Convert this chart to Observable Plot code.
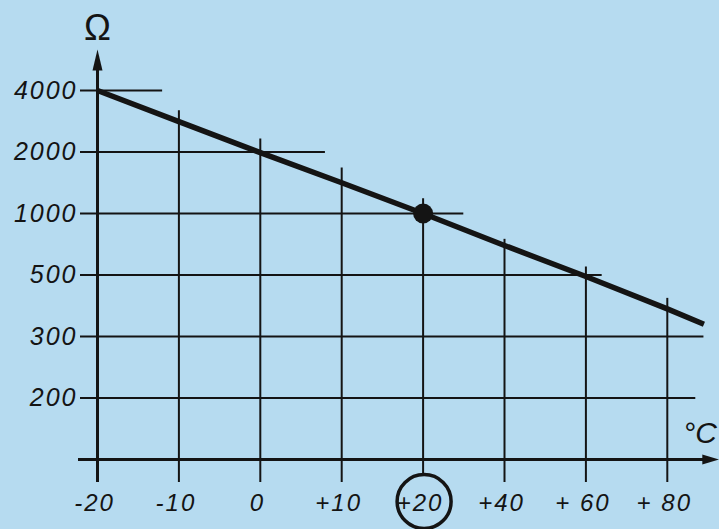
<!DOCTYPE html>
<html>
<head>
<meta charset="utf-8">
<script src="https://cdn.jsdelivr.net/npm/d3@7"></script>
<script src="https://cdn.jsdelivr.net/npm/@observablehq/plot@0.6"></script>
<style>
  html, body { margin: 0; padding: 0; background: #b6dbf0; }
  #chart { width: 719px; height: 529px; overflow: hidden; }
</style>
</head>
<body>
<div id="chart"></div>
<script>
// ---- data ----
const xTicks = [-20, -10, 0, 10, 20, 40, 60, 80];
const xLabels = ["-20", "-10", "0", "+10", "+20", "+40", "+ 60", "+ 80"];
const yTicks = [4000, 2000, 1000, 500, 300, 200];
const yLabels = ["4000", "2000", "1000", "500", "300", "200"];
const yBase = 100;                       // level of the horizontal axis
const curveT = [-20, -10, 0, 10, 20, 40, 60, 80, 89];
const curveR = [4000, 2990, 1990, 1500, 1000, 740, 495, 390, 340];
const vGridX = [-10, 0, 10, 20, 40, 60, 80];
const vGridTop = [3340, 2420, 1740, 1240, 790, 565, 424];
const hGridEnd = [-12, 8, 30, 64, 89, 87];
const markedT = [20];
const markedR = [1000];
const unitY = "Ω";
const unitX = "°C";

// ---- layout (scale ranges) ----
const W = 719, H = 529;
const x0 = 97, xStep = 81.4;
const y0 = 90, yStep = 61.5;
const yLevels = [...yTicks, yBase];
const xRange = xTicks.map((d, i) => x0 + i * xStep);
const yRange = yLevels.map((d, i) => y0 + i * yStep);

const ink = "#141414";
const curve = curveT.map((t, i) => ({t, r: curveR[i]}));
const vGrid = vGridX.map((t, i) => ({t, top: vGridTop[i]}));
const hGrid = yTicks.map((r, i) => ({r, end: hGridEnd[i]}));
const xLab = xTicks.map((t, i) => ({t, label: xLabels[i]}));
const yLab = yTicks.map((r, i) => ({r, label: yLabels[i]}));
const marked = markedT.map((t, i) => ({t, r: markedR[i]}));

const font = "'Liberation Sans', Arial, sans-serif";

const chart = Plot.plot({
  width: W,
  height: H,
  margin: 0,
  x: {type: "linear", domain: xTicks, range: xRange, axis: null},
  y: {type: "linear", domain: yLevels, range: yRange, axis: null},
  style: {background: "#b6dbf0", fontFamily: font, overflow: "visible"},
  marks: [
    // horizontal grid lines
    Plot.ruleY(hGrid, {y: "r", x1: -20, x2: "end", insetLeft: -17, stroke: ink, strokeWidth: 2}),
    // vertical grid lines
    Plot.ruleX(vGrid.filter(d => d.t !== 20), {x: "t", y1: "top", y2: yBase, insetBottom: -23, stroke: ink, strokeWidth: 2}),
    Plot.ruleX(vGrid.filter(d => d.t === 20), {x: "t", y1: "top", y2: yBase, insetBottom: -17, stroke: ink, strokeWidth: 2}),
    // y axis
    Plot.ruleX([-20], {y1: 4000, y2: yBase, insetTop: -22, insetBottom: -23, stroke: ink, strokeWidth: 3}),
    Plot.vector([{t: -20, r: 4000}], {x: "t", y: "r", shape: "spike", anchor: "start", length: 21, r: 5, rotate: 0, dy: -20, fill: ink, stroke: "none"}),
    // x axis
    Plot.ruleY([yBase], {x1: -20, x2: 80, insetLeft: -19, insetRight: -38, stroke: ink, strokeWidth: 3}),
    Plot.vector([{t: 80, r: yBase}], {x: "t", y: "r", shape: "spike", anchor: "start", length: 17, r: 5, rotate: 90, dx: 35, fill: ink, stroke: "none"}),
    // curve
    Plot.line(curve, {x: "t", y: "r", stroke: ink, strokeWidth: 5.5, strokeLinecap: "butt"}),
    Plot.dot(marked, {x: "t", y: "r", r: 10, fill: ink}),
    // tick labels
    Plot.text(yLab, {x: () => -20, y: "r", text: "label", dx: -20, textAnchor: "end", fontSize: 25, fontStyle: "italic", fill: ink}),
    Plot.text(xLab, {x: "t", y: () => yBase, text: "label", dy: 44, dx: -3, fontSize: 24, fontStyle: "italic", fill: ink}),
    Plot.dot(marked, {x: "t", y: () => yBase, dy: 42, dx: 1, r: 27, fill: "none", stroke: ink, strokeWidth: 3.5}),
    // units
    Plot.text([unitY], {x: () => -20, y: () => 4000, text: d => d, dy: -62, fontSize: 36, fill: ink}),
    Plot.text([unitX], {x: () => 80, y: () => yBase, text: d => d, dx: 16, dy: -26, textAnchor: "start", fontSize: 30, fontStyle: "italic", fill: ink})
  ]
});
d3.select(chart).selectAll("g[aria-label='text'] text").style("letter-spacing", "2px");
d3.select(chart).selectAll("text").filter(function() { return this.textContent === unitX || this.textContent === unitY; }).style("letter-spacing", "0px");
document.getElementById("chart").appendChild(chart);
</script>
</body>
</html>
